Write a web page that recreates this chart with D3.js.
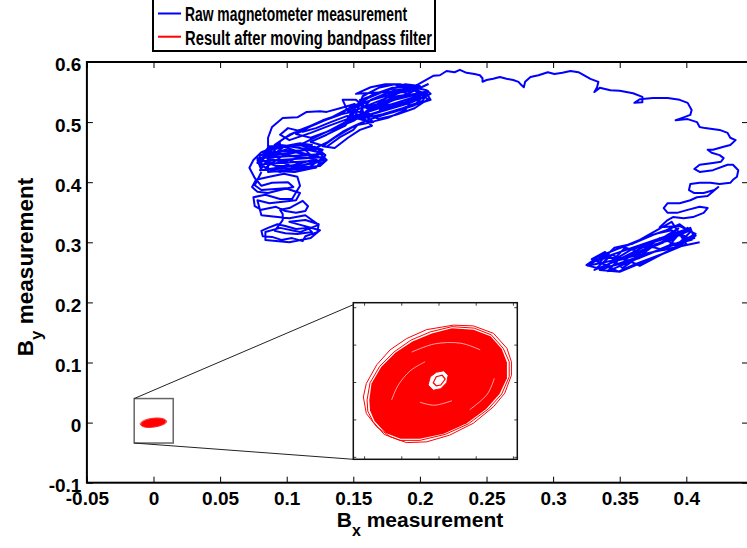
<!DOCTYPE html>
<html>
<head>
<meta charset="utf-8">
<script src="https://cdn.jsdelivr.net/npm/d3@7"></script>
<style>
  body { margin: 0; background: #fff; }
  svg text { font-family: "Liberation Sans", Arial, Helvetica, sans-serif; font-weight: bold; fill: #000; }
</style>
</head>
<body>
<div id="chart"></div>
<script>
// raw magnetometer trace, [Bx, By], in the order it is drawn
let rawLower = [
  [0.081,0.417],[0.076,0.395],[0.081,0.387],[0.099,0.390],[0.110,0.382],[0.107,0.370],[0.087,0.365],[0.078,0.370],
  [0.081,0.345],[0.102,0.340],[0.114,0.345],[0.124,0.329],[0.110,0.317],[0.095,0.324],[0.084,0.317],[0.084,0.304],
  [0.102,0.300],[0.118,0.307],[0.125,0.320],
  [0.102,0.334],[0.114,0.337],[0.124,0.330],[0.123,0.317],[0.114,0.310],[0.112,0.302],[0.104,0.307],[0.096,0.304],
  [0.089,0.309],[0.082,0.310],[0.081,0.319],[0.086,0.324],[0.093,0.330],[0.099,0.327],[0.107,0.322],[0.116,0.324],
  [0.119,0.317],[0.108,0.314],[0.099,0.315],[0.091,0.319],[0.097,0.337],[0.097,0.347],[0.095,0.354],[0.102,0.357],
  [0.112,0.369],[0.116,0.360],[0.114,0.352],[0.107,0.349],[0.099,0.352],[0.092,0.359],[0.081,0.354],[0.076,0.360],
  [0.075,0.375],[0.084,0.379],[0.095,0.372],[0.104,0.372],[0.110,0.394],[0.108,0.409],[0.098,0.414],[0.087,0.409],
  [0.077,0.404],[0.074,0.392],[0.078,0.384],[0.086,0.382],[0.095,0.387],[0.105,0.392],[0.101,0.400],[0.089,0.399],
  [0.081,0.394],[0.076,0.407],[0.072,0.424],[0.075,0.437]
];
let rawCluster1 = [
  [0.081,0.450],[0.095,0.462],[0.110,0.457],[0.124,0.450],[0.130,0.437],[0.121,0.424],[0.106,0.417],[0.089,0.419],
  [0.080,0.429],[0.084,0.444],[0.099,0.454],[0.116,0.445],[0.125,0.434],[0.110,0.427],[0.092,0.427],[0.081,0.437],
  [0.090,0.450],[0.107,0.442],[0.120,0.440],[0.114,0.454],[0.097,0.444],[0.084,0.424],[0.095,0.417],[0.118,0.432],
  [0.127,0.454],[0.110,0.465],[0.091,0.457],[0.080,0.444],
  [0.078,0.432],[0.087,0.454],[0.101,0.460],[0.114,0.462],[0.125,0.454],[0.119,0.437],[0.107,0.429],[0.093,0.424],
  [0.081,0.420],[0.078,0.437],[0.091,0.445],[0.106,0.450],[0.121,0.459],[0.129,0.445],[0.124,0.427],[0.110,0.420],
  [0.096,0.434],[0.086,0.440],[0.098,0.459],[0.111,0.449],[0.127,0.440],[0.116,0.424],[0.102,0.437],[0.089,0.430],
  [0.082,0.450],[0.095,0.465],
  [0.080,0.420],[0.125,0.427],[0.130,0.437],[0.081,0.430],[0.078,0.440],[0.127,0.447],[0.124,0.455],[0.083,0.449],
  [0.087,0.460],[0.119,0.462],[0.110,0.465],[0.089,0.454],[0.081,0.435],[0.128,0.442],[0.122,0.424],[0.086,0.417]
];
let rawBand = [
  [0.086,0.474],[0.089,0.492],[0.097,0.507],[0.108,0.508],[0.115,0.517],[0.125,0.518],[0.130,0.517],[0.140,0.523],
  [0.151,0.530],[0.140,0.512],[0.125,0.500],[0.110,0.487],[0.099,0.474],[0.091,0.462],
  [0.102,0.479],[0.114,0.490],[0.127,0.503],[0.139,0.512],[0.149,0.517],[0.144,0.500],[0.133,0.487],[0.121,0.474],
  [0.110,0.462],[0.119,0.454],[0.131,0.467],[0.142,0.484],[0.152,0.495],[0.160,0.503],[0.148,0.490],[0.136,0.474],
  [0.127,0.460],[0.136,0.457],[0.146,0.474],[0.155,0.487],[0.164,0.494],[0.157,0.507],[0.145,0.510],[0.133,0.500],
  [0.122,0.490],[0.112,0.484],[0.101,0.490],[0.095,0.479],
  [0.102,0.470],[0.118,0.482],[0.133,0.495],[0.148,0.507],[0.144,0.494],[0.130,0.479],[0.118,0.467],[0.130,0.459],
  [0.140,0.475],[0.150,0.487],[0.153,0.495],[0.165,0.500],[0.155,0.517],[0.144,0.520],[0.133,0.507],[0.119,0.494],
  [0.107,0.480],[0.118,0.474],[0.134,0.487],[0.151,0.503]
];
let rawCluster2 = [
  [0.164,0.523],[0.181,0.537],[0.196,0.545],[0.206,0.550],[0.202,0.535],[0.187,0.523],[0.172,0.513],[0.159,0.507],
  [0.148,0.512],[0.154,0.532],[0.164,0.545],[0.179,0.557],[0.193,0.558],[0.204,0.547],[0.196,0.528],[0.181,0.517],
  [0.166,0.508],[0.155,0.517],[0.163,0.537],[0.175,0.548],[0.187,0.550],[0.200,0.542],[0.189,0.533],[0.174,0.528],
  [0.160,0.523],[0.152,0.537],[0.142,0.537],
  [0.146,0.517],[0.157,0.530],[0.169,0.542],[0.181,0.553],[0.194,0.555],[0.203,0.543],[0.193,0.532],[0.179,0.523],
  [0.167,0.515],[0.155,0.507],[0.149,0.523],[0.161,0.540],[0.175,0.553],[0.188,0.560],[0.199,0.550],[0.206,0.538],
  [0.196,0.523],[0.182,0.512],[0.169,0.505],[0.159,0.517],[0.170,0.533],[0.184,0.542],[0.197,0.547],[0.189,0.520],
  [0.176,0.507],[0.163,0.500],[0.151,0.507],[0.157,0.543],[0.169,0.557],[0.181,0.563],[0.193,0.552],
  [0.152,0.547],[0.163,0.558],[0.174,0.563],[0.185,0.563],[0.195,0.558],[0.205,0.553],[0.208,0.547],[0.199,0.537],
  [0.185,0.530],[0.170,0.520],[0.174,0.540],[0.189,0.545],[0.200,0.557],[0.206,0.563],
  [0.144,0.500],[0.204,0.542],[0.206,0.552],[0.146,0.517],[0.149,0.527],[0.200,0.560],[0.189,0.563],[0.155,0.537],
  [0.159,0.502],[0.208,0.537],[0.205,0.548],[0.148,0.508],[0.152,0.520],[0.194,0.557]
];
let rawArc = [
  [0.210,0.577],[0.215,0.578],[0.220,0.585],[0.226,0.583],[0.230,0.587],[0.235,0.582],[0.241,0.580],[0.245,0.578],
  [0.247,0.573],[0.247,0.567],[0.250,0.570],[0.255,0.572],[0.260,0.575],[0.265,0.572],[0.270,0.570],[0.274,0.567],
  [0.276,0.562],[0.278,0.558],[0.279,0.567],[0.283,0.575],[0.289,0.578],[0.296,0.583],[0.301,0.580],[0.307,0.582],
  [0.313,0.585],[0.319,0.583],[0.324,0.577],[0.328,0.572],[0.334,0.567],[0.333,0.558],[0.331,0.550],[0.335,0.557],
  [0.343,0.553],[0.350,0.552],[0.360,0.548],[0.367,0.542],[0.367,0.533],[0.361,0.532],[0.365,0.538],[0.375,0.540],
  [0.386,0.540],[0.395,0.537],[0.401,0.532],[0.404,0.520],[0.403,0.512],[0.397,0.507],[0.392,0.503],[0.401,0.505],
  [0.408,0.500],[0.410,0.492],[0.414,0.490],[0.425,0.487],[0.431,0.482],[0.433,0.474],[0.437,0.470],[0.433,0.462],
  [0.428,0.459],[0.420,0.454],[0.416,0.454],[0.419,0.449],[0.425,0.445],[0.428,0.440],[0.426,0.434],[0.420,0.432],
  [0.410,0.429],[0.406,0.422],[0.410,0.417],[0.420,0.420],[0.431,0.429],[0.435,0.429],[0.439,0.420],[0.438,0.409],
  [0.435,0.404],[0.433,0.399],[0.425,0.397],[0.418,0.399],[0.410,0.399],[0.403,0.397],[0.402,0.387],[0.406,0.382],
  [0.413,0.382],[0.421,0.387],[0.424,0.392],[0.416,0.377],[0.408,0.375],[0.403,0.370],[0.395,0.365],[0.386,0.365],
  [0.383,0.357],[0.386,0.349],[0.393,0.349],[0.401,0.354],[0.410,0.359],[0.416,0.357],[0.413,0.349],[0.405,0.342],
  [0.398,0.340],[0.390,0.342],[0.386,0.337],[0.380,0.325]
];
let rawRight = [
  [0.395,0.327],[0.407,0.314],[0.395,0.300],[0.379,0.287],[0.365,0.274],[0.350,0.264],[0.335,0.256],[0.325,0.262],
  [0.334,0.276],[0.346,0.287],[0.362,0.300],[0.377,0.314],[0.389,0.320],[0.401,0.304],[0.386,0.294],[0.371,0.280],
  [0.354,0.264],[0.341,0.252],[0.349,0.271],[0.365,0.289],[0.382,0.307],[0.394,0.323],[0.383,0.300],[0.369,0.287],
  [0.356,0.274],[0.343,0.267],[0.358,0.287],[0.374,0.299],[0.389,0.310],[0.403,0.320],
  [0.331,0.254],[0.344,0.279],[0.358,0.267],[0.371,0.294],[0.384,0.287],[0.395,0.315],[0.404,0.304],[0.392,0.297],
  [0.380,0.307],[0.367,0.284],[0.354,0.291],[0.341,0.261],[0.329,0.272],[0.339,0.284],[0.352,0.257],[0.365,0.277],
  [0.377,0.297],[0.389,0.304],[0.401,0.324],[0.407,0.311],[0.398,0.299],[0.386,0.284],[0.374,0.274],[0.362,0.264],
  [0.349,0.251],[0.335,0.267],[0.346,0.291],[0.359,0.297],[0.373,0.311],[0.385,0.320],[0.395,0.330],[0.403,0.317],
  [0.391,0.291],[0.379,0.277],[0.365,0.261],[0.352,0.274],[0.340,0.274],
  [0.328,0.267],[0.403,0.324],[0.406,0.307],[0.335,0.254],[0.350,0.251],[0.400,0.297],[0.389,0.334],[0.365,0.304],
  [0.343,0.284],[0.326,0.261],[0.410,0.300]
];
let rawTrace = [].concat(rawLower, rawCluster1, rawBand, rawCluster2, rawArc, rawRight);

// filtered result: dense body, outer loops, gaps and the centre
let filtBody = [
  [-0.0093,-0.0024],[-0.0090,-0.0002],[-0.0077,0.0020],[-0.0058,0.0039],[-0.0035,0.0054],[-0.0009,0.0065],
  [0.0018,0.0072],[0.0047,0.0070],[0.0070,0.0061],[0.0085,0.0044],[0.0092,0.0026],[0.0092,0.0005],
  [0.0082,-0.0016],[0.0064,-0.0036],[0.0038,-0.0055],[0.0007,-0.0069],[-0.0025,-0.0076],[-0.0051,-0.0076],
  [-0.0071,-0.0068],[-0.0086,-0.0052],[-0.0092,-0.0038]
];
let filtLoops = [
  [[-0.0101,-0.0020],[-0.0097,-0.0002],[-0.0083,0.0023],[-0.0065,0.0043],[-0.0043,0.0058],[-0.0016,0.0070],
   [0.0020,0.0076],[0.0047,0.0075],[0.0074,0.0065],[0.0092,0.0045],[0.0098,0.0027],[0.0098,0.0009],
   [0.0089,-0.0015],[0.0074,-0.0033],[0.0047,-0.0055],[0.0015,-0.0071],[-0.0016,-0.0080],[-0.0043,-0.0081],
   [-0.0065,-0.0073],[-0.0083,-0.0060],[-0.0097,-0.0042]],
  [[-0.0096,-0.0024],[-0.0092,-0.0001],[-0.0079,0.0021],[-0.0060,0.0040],[-0.0037,0.0056],[-0.0011,0.0067],
   [0.0018,0.0074],[0.0048,0.0072],[0.0071,0.0063],[0.0087,0.0045],[0.0095,0.0027],[0.0095,0.0007],
   [0.0085,-0.0016],[0.0067,-0.0036],[0.0040,-0.0056],[0.0009,-0.0070],[-0.0025,-0.0078],[-0.0052,-0.0078],
   [-0.0073,-0.0070],[-0.0088,-0.0053],[-0.0095,-0.0039]]
];
let filtGaps = [
  [[-0.0063,-0.0024],[-0.0054,-0.0004],[-0.0038,0.0015],[-0.0018,0.0027]],
  [[-0.0025,-0.0027],[-0.0005,-0.0031],[0.0018,-0.0025]],
  [[-0.0036,0.0040],[-0.0005,0.0051],[0.0029,0.0052],[0.0056,0.0043]],
  [[0.0042,-0.0037],[0.0065,-0.0017],[0.0075,0.0005]]
];
let filtHole = [
  [-0.0014,-0.0004],[-0.0011,0.0007],[-0.0003,0.0013],[0.0007,0.0015],[0.0013,0.0009],[0.0011,-0.0001],
  [0.0003,-0.0009],[-0.0007,-0.0011]
];
let filtCore = [
  [-0.0007,-0.0001],[-0.0003,0.0007],[0.0005,0.0009],[0.0009,0.0004],[0.0003,-0.0004],[-0.0003,-0.0005]
];

let xTicks = [-0.05, 0, 0.05, 0.1, 0.15, 0.2, 0.25, 0.3, 0.35, 0.4];
let xTickLabels = ['-0.05', '0', '0.05', '0.1', '0.15', '0.2', '0.25', '0.3', '0.35', '0.4'];
let yTicks = [-0.1, 0, 0.1, 0.2, 0.3, 0.4, 0.5, 0.6];
let yTickLabels = ['-0.1', '0', '0.1', '0.2', '0.3', '0.4', '0.5', '0.6'];
let legendLabels = ['Raw magnetometer measurement', 'Result after moving bandpass filter'];
let legendColors = ['#0000ff', '#ff0000'];

// zoom window in data units [x0, x1, y0, y1] and the inset's own limits
let zoomBox = [-0.0145, 0.0148, -0.034, 0.04];
let insetXDomain = [-0.01145, 0.01059];
let insetYDomain = [-0.01033, 0.0106];
let insetTicks = [-0.01, -0.005, 0, 0.005, 0.01];

let svgWidth = 747;
let svgHeight = 548;
let plot = { left: 86.9, top: 62, right: 748, bottom: 482.7 };
let inset = { left: 353.3, top: 302.7, right: 517.3, bottom: 459.3 };

let svg = d3.select('#chart')
  .append('svg')
  .attr('width', svgWidth)
  .attr('height', svgHeight);

let x = d3.scaleLinear().domain([-0.05, 0.4463]).range([plot.left, plot.right]);
let y = d3.scaleLinear().domain([-0.1, 0.6]).range([plot.bottom, plot.top]);
let xi = d3.scaleLinear().domain(insetXDomain).range([inset.left, inset.right]);
let yi = d3.scaleLinear().domain(insetYDomain).range([inset.bottom, inset.top]);

let defs = svg.append('defs');
defs.append('clipPath').attr('id', 'plotClip')
  .append('rect')
  .attr('x', plot.left).attr('y', plot.top)
  .attr('width', plot.right - plot.left).attr('height', plot.bottom - plot.top);
defs.append('clipPath').attr('id', 'insetClip')
  .append('rect')
  .attr('x', inset.left).attr('y', inset.top)
  .attr('width', inset.right - inset.left).attr('height', inset.bottom - inset.top);

// raw trace
let lineMain = d3.line().x(d => x(d[0])).y(d => y(d[1]));
svg.append('path')
  .datum(rawTrace)
  .attr('clip-path', 'url(#plotClip)')
  .attr('d', lineMain)
  .attr('fill', 'none')
  .attr('stroke', '#0000ff')
  .attr('stroke-width', 2)
  .attr('stroke-linejoin', 'round');

// draws the filtered loops with a given pair of scales
function drawFiltered(g, sx, sy, thin) {
  let loop = d3.line().x(d => sx(d[0])).y(d => sy(d[1])).curve(d3.curveLinearClosed);
  g.append('path').datum(filtBody).attr('d', loop).attr('fill', '#ff0000').attr('stroke', 'none');
  g.selectAll('.loop').data(filtLoops).enter().append('path')
    .attr('class', 'loop')
    .attr('d', loop)
    .attr('fill', 'none')
    .attr('stroke', '#ff0000')
    .attr('stroke-width', thin);
  if (thin < 1) return;
  g.selectAll('.gap').data(filtGaps).enter().append('path')
    .attr('class', 'gap')
    .attr('d', d3.line().x(d => sx(d[0])).y(d => sy(d[1])).curve(d3.curveCardinal))
    .attr('fill', 'none')
    .attr('stroke', '#fff')
    .attr('stroke-opacity', 0.7)
    .attr('stroke-width', 0.9);
  g.append('path').datum(filtHole).attr('d', loop).attr('fill', '#fff').attr('stroke', '#ff0000').attr('stroke-width', 1);
  g.append('path').datum(filtCore).attr('d', loop).attr('fill', 'none').attr('stroke', '#ff0000').attr('stroke-width', 1.2);
}

// small version in the main axes
let smallG = svg.append('g').attr('clip-path', 'url(#plotClip)');
drawFiltered(smallG, x, y, 0.6);

// zoom window and connector lines
svg.append('rect')
  .attr('x', x(zoomBox[0])).attr('y', y(zoomBox[3]))
  .attr('width', x(zoomBox[1]) - x(zoomBox[0]))
  .attr('height', y(zoomBox[2]) - y(zoomBox[3]))
  .attr('fill', 'none')
  .attr('stroke', '#666')
  .attr('stroke-width', 1.5);
svg.append('line')
  .attr('x1', x(zoomBox[0])).attr('y1', y(zoomBox[3]))
  .attr('x2', inset.left).attr('y2', inset.top + 2)
  .attr('stroke', '#222').attr('stroke-width', 1);
svg.append('line')
  .attr('x1', x(zoomBox[0])).attr('y1', y(zoomBox[2]))
  .attr('x2', inset.left).attr('y2', inset.bottom)
  .attr('stroke', '#222').attr('stroke-width', 1);

// inset
svg.append('rect')
  .attr('x', inset.left).attr('y', inset.top)
  .attr('width', inset.right - inset.left).attr('height', inset.bottom - inset.top)
  .attr('fill', '#fff');
let insetG = svg.append('g').attr('clip-path', 'url(#insetClip)');
drawFiltered(insetG, xi, yi, 1);

let insetAxes = [
  [d3.axisBottom(xi), `translate(0,${inset.bottom})`],
  [d3.axisTop(xi), `translate(0,${inset.top})`],
  [d3.axisLeft(yi), `translate(${inset.left},0)`],
  [d3.axisRight(yi), `translate(${inset.right},0)`]
];
insetAxes.forEach(function (a) {
  let g = svg.append('g')
    .attr('transform', a[1])
    .call(a[0].tickValues(insetTicks).tickSizeInner(-3).tickSizeOuter(0).tickFormat(''));
  g.select('.domain').remove();
  g.selectAll('line').attr('stroke', '#444');
});
svg.append('rect')
  .attr('x', inset.left).attr('y', inset.top)
  .attr('width', inset.right - inset.left).attr('height', inset.bottom - inset.top)
  .attr('fill', 'none')
  .attr('stroke', '#111')
  .attr('stroke-width', 1.5);

// main axes, ticks pointing inward
let xAxis = svg.append('g')
  .attr('transform', `translate(0,${plot.bottom})`)
  .call(d3.axisBottom(x).tickValues(xTicks).tickSizeInner(-6).tickSizeOuter(0).tickPadding(8.5)
    .tickFormat((d, i) => xTickLabels[i]));
xAxis.selectAll('text').attr('font-size', 19);

let yAxis = svg.append('g')
  .attr('transform', `translate(${plot.left},0)`)
  .call(d3.axisLeft(y).tickValues(yTicks).tickSizeInner(-6).tickSizeOuter(0).tickPadding(5.5)
    .tickFormat((d, i) => yTickLabels[i]));
yAxis.selectAll('text').attr('font-size', 19).attr('dy', '0.47em');

svg.append('g')
  .attr('transform', `translate(0,${plot.top})`)
  .call(d3.axisTop(x).tickValues(xTicks).tickSizeInner(-6).tickSizeOuter(0).tickFormat(''));
svg.append('g')
  .attr('transform', `translate(${plot.right},0)`)
  .call(d3.axisRight(y).tickValues(yTicks).tickSizeInner(-6).tickSizeOuter(0).tickFormat(''));

svg.selectAll('.domain').remove();

svg.append('rect')
  .attr('x', plot.left).attr('y', plot.top)
  .attr('width', plot.right - plot.left).attr('height', plot.bottom - plot.top)
  .attr('fill', 'none')
  .attr('stroke', '#000')
  .attr('stroke-width', 2);

// axis labels
let xLabel = svg.append('text')
  .attr('x', 420)
  .attr('y', 526.7)
  .attr('text-anchor', 'middle')
  .attr('font-size', 21);
xLabel.append('tspan').text('B');
xLabel.append('tspan').attr('dy', 9).attr('font-size', 16).text('x');
xLabel.append('tspan').attr('dy', -9).text(' measurement');

let yLabel = svg.append('text')
  .attr('transform', `translate(33,267) rotate(-90)`)
  .attr('text-anchor', 'middle')
  .attr('font-size', 22.5);
yLabel.append('tspan').text('B');
yLabel.append('tspan').attr('dy', 9).attr('font-size', 17).text('y');
yLabel.append('tspan').attr('dy', -9).text(' measurement');

// legend
let legend = svg.append('g');
legend.append('rect')
  .attr('x', 153).attr('y', -2)
  .attr('width', 282).attr('height', 53)
  .attr('fill', '#fff')
  .attr('stroke', '#000')
  .attr('stroke-width', 2);
let legendRows = [{ y: 13.5, base: 20.7, w: 222 }, { y: 36.7, base: 45, w: 247 }];
legendLabels.forEach(function (lab, i) {
  legend.append('line')
    .attr('x1', 158).attr('x2', 181)
    .attr('y1', legendRows[i].y).attr('y2', legendRows[i].y)
    .attr('stroke', legendColors[i])
    .attr('stroke-width', 2);
  legend.append('text')
    .attr('x', 185)
    .attr('y', legendRows[i].base)
    .attr('font-size', 20)
    .attr('textLength', legendRows[i].w)
    .attr('lengthAdjust', 'spacingAndGlyphs')
    .text(lab);
});
</script>
</body>
</html>
